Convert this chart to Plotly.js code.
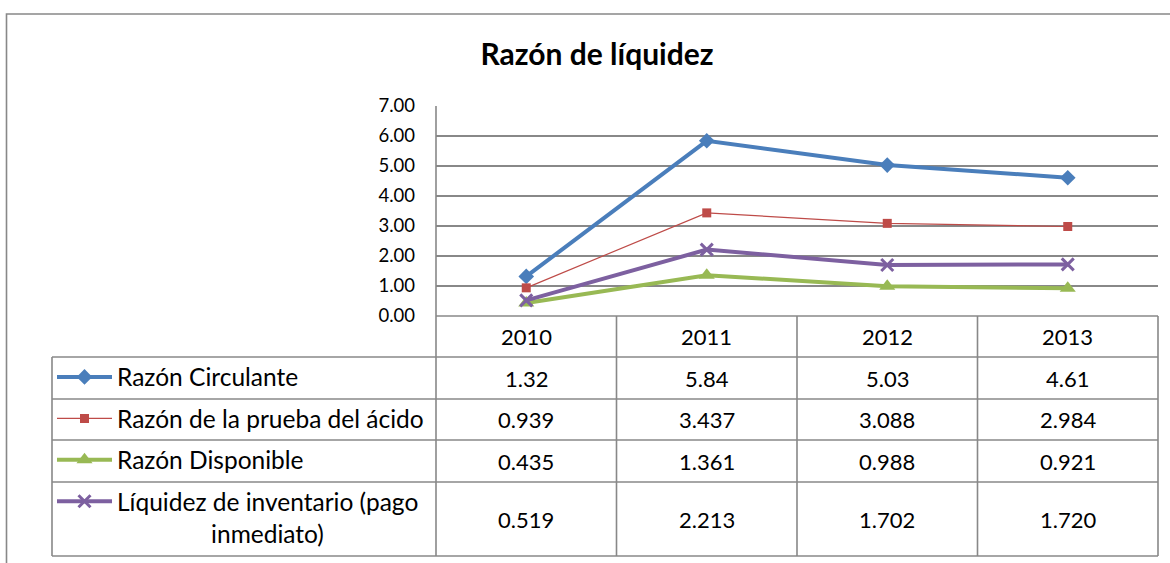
<!DOCTYPE html>
<html>
<head>
<meta charset="utf-8">
<script src="https://cdn.plot.ly/plotly-3.0.1.min.js"></script>
<style>html,body{margin:0;padding:0;background:#fff;}#chart{width:1170px;height:563px;}</style>
</head>
<body>
<div id="chart"></div>
<script>
// ---- data ----
const years = ['2010', '2011', '2012', '2013'];
const seriesNames = [
  'Razón Circulante',
  'Razón de la prueba del ácido',
  'Razón Disponible',
  'Líquidez de inventario (pago<br>' + '\u00A0'.repeat(15) + 'inmediato)'
];
const circulante = [1.32, 5.84, 5.03, 4.61];
const acido = [0.939, 3.437, 3.088, 2.984];
const disponible = [0.435, 1.361, 0.988, 0.921];
const inventario = [0.519, 2.213, 1.702, 1.720];
const yTicks = [0, 1, 2, 3, 4, 5, 6, 7];

// ---- geometry (pixels) ----
const L = 436, R = 1158, T = 106, B = 316;
const pw = R - L, ph = B - T;
const px = X => (X - L) / pw;
const py = Y => (B - Y) / ph;
const FONT = 'Lato, "Open Sans", sans-serif';
const GRID = '#888888';

const rowLines = [357, 399, 440, 482, 556];
const rowCenters = [336.5, 378, 419.5, 461, 519];
const colEdges = [L, L + pw / 4, L + pw / 2, L + 3 * pw / 4, R];

const series = [
  {name: seriesNames[0], y: circulante, dec: 2, color: '#4A7EBB', width: 4,
   marker: {symbol: 'diamond', size: 12}},
  {name: seriesNames[1], y: acido, dec: 3, color: '#BE4B48', width: 1.2,
   marker: {symbol: 'square', size: 9}},
  {name: seriesNames[2], y: disponible, dec: 3, color: '#98B954', width: 4,
   marker: {symbol: 'triangle-up', size: 14}},
  {name: seriesNames[3], y: inventario, dec: 3, color: '#7D60A0', width: 4,
   marker: {symbol: 'x-thin', size: 12}}
];

const traces = series.map((s, i) => {
  const m = Object.assign({color: s.color}, s.marker);
  if (s.marker.symbol === 'x-thin') m.line = {width: 3, color: s.color};
  return {
    type: 'scatter', mode: 'lines+markers',
    x: years, y: s.y, name: s.name, legendgroup: 'g' + i,
    line: {color: s.color, width: s.width},
    marker: m, cliponaxis: false, hoverinfo: 'x+y+name'
  };
});

const shapes = [];
function hline(y, x0, x1) {
  shapes.push({type: 'line', xref: 'paper', yref: 'paper', x0: px(x0), x1: px(x1), y0: py(y), y1: py(y),
    line: {color: GRID, width: 1.6}});
}
function vline(x, y0, y1) {
  shapes.push({type: 'line', xref: 'paper', yref: 'paper', x0: px(x), x1: px(x), y0: py(y0), y1: py(y1),
    line: {color: GRID, width: 1.6}});
}
// outer chart border
shapes.push({type: 'rect', xref: 'paper', yref: 'paper', x0: px(6.5), x1: px(1180), y0: py(14), y1: py(580),
  line: {color: GRID, width: 1.6}, fillcolor: 'rgba(0,0,0,0)'});
// table
hline(B, L, R);
rowLines.forEach(y => hline(y, 52, R));
vline(52, rowLines[0], rowLines[rowLines.length - 1]);
vline(L, T, rowLines[rowLines.length - 1]);
colEdges.slice(1).forEach(x => vline(x, B, rowLines[rowLines.length - 1]));

const annotations = [];
years.forEach((yr, j) => {
  annotations.push({xref: 'x', yref: 'paper', x: j, y: py(rowCenters[0]), text: yr, showarrow: false,
    xanchor: 'center', yanchor: 'middle', font: {family: FONT, size: 22, color: '#000'}});
  series.forEach((s, i) => {
    annotations.push({xref: 'x', yref: 'paper', x: j, y: py(rowCenters[i + 1]), text: s.y[j].toFixed(s.dec),
      showarrow: false, xanchor: 'center', yanchor: 'middle', font: {family: FONT, size: 22, color: '#000'}});
  });
});

const layout = {
  width: 1170, height: 563,
  margin: {l: L, r: 1170 - R, t: T, b: 563 - B, pad: 0, autoexpand: false},
  paper_bgcolor: '#fff', plot_bgcolor: '#fff',
  title: {text: '<b>Razón de líquidez</b>', font: {family: FONT, size: 30, color: '#000'},
    xref: 'paper', x: px(597), xanchor: 'center', yref: 'container', y: 1 - 54 / 563, yanchor: 'middle'},
  xaxis: {type: 'category', range: [-0.5, 3.5], showgrid: false, showticklabels: false, zeroline: false,
    showline: false, ticks: '', fixedrange: true, automargin: false},
  yaxis: {range: [0, 7], tickvals: yTicks, tickformat: '.2f', showgrid: true, gridcolor: GRID, gridwidth: 1.6,
    zeroline: false, showline: false, ticks: '', ticklabelstandoff: 20, automargin: false,
    tickfont: {family: FONT, size: 18.5, color: '#000'}, fixedrange: true},
  showlegend: true,
  legend: {x: px(52), xanchor: 'left', y: py(354.5), yanchor: 'top', bgcolor: 'rgba(0,0,0,0)',
    borderwidth: 0, font: {family: FONT, size: 24.5, color: '#000'}, itemwidth: 55,
    traceorder: 'grouped', tracegroupgap: 6.6, valign: 'top'},
  shapes: shapes,
  annotations: annotations
};

Plotly.newPlot('chart', traces, layout, {displayModeBar: false, staticPlot: true});
</script>
</body>
</html>
